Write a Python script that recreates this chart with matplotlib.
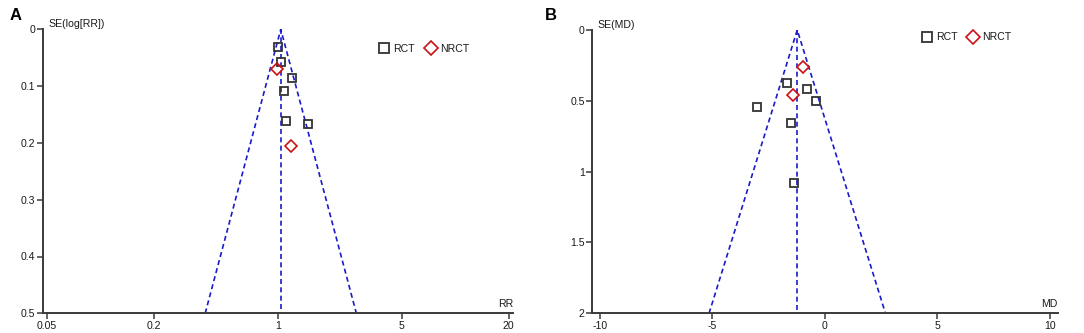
import numpy as np
import matplotlib
matplotlib.use("Agg")
import matplotlib.pyplot as plt
from matplotlib.lines import Line2D

plt.rcParams['font.family'] = ['Liberation Sans', 'DejaVu Sans']

# ---- Panel A data (risk ratio) ----
a_rct_rr = [1.00, 1.04, 1.20, 1.09, 1.11, 1.48]
a_rct_se = [0.032, 0.057, 0.086, 0.109, 0.161, 0.167]
a_nrct_rr = [0.99, 1.18]
a_nrct_se = [0.070, 0.206]
a_pooled = 1.04
a_xticks = [0.05, 0.2, 1, 5, 20]
a_xticklabels = ['0.05', '0.2', '1', '5', '20']
a_yticks = [0, 0.1, 0.2, 0.3, 0.4, 0.5]
a_yticklabels = ['0', '0.1', '0.2', '0.3', '0.4', '0.5']

# ---- Panel B data (mean difference) ----
b_rct_md = [-1.70, -0.79, -0.41, -3.01, -1.50, -1.39]
b_rct_se = [0.372, 0.416, 0.501, 0.546, 0.659, 1.080]
b_nrct_md = [-0.98, -1.41]
b_nrct_se = [0.264, 0.456]
b_pooled = -1.23
b_xticks = [-10, -5, 0, 5, 10]
b_xticklabels = ['-10', '-5', '0', '5', '10']
b_yticks = [0, 0.5, 1, 1.5, 2]
b_yticklabels = ['0', '0.5', '1', '1.5', '2']

W, H = 1084, 333
fig = plt.figure(figsize=(W / 100, H / 100), dpi=100)

def px_axes(x0, x1, ytop, ybot):
    return fig.add_axes([x0 / W, 1 - ybot / H, (x1 - x0) / W, (ybot - ytop) / H])

axA = px_axes(42.7, 513, 29.3, 313.3)
axB = px_axes(592.3, 1058, 30, 313.3)

funnel_col = '#1a1acc'
sq_col = '#333333'
dm_col = '#cc1111'
spine_col = '#3a3a3a'
txt_col = '#1a1a1a'
fs = 7.6

def style(ax):
    for s in ['top', 'right']:
        ax.spines[s].set_visible(False)
    for s in ['left', 'bottom']:
        ax.spines[s].set_color(spine_col)
        ax.spines[s].set_linewidth(1.4)
    ax.tick_params(direction='out', length=4, width=1.1, color=spine_col,
                   labelsize=fs, labelcolor=txt_col, pad=1.5)
    ax.set_facecolor('none')

dash = (0, (3, 2))

# Panel A
style(axA)
axA.set_xscale('log')
se_max_a = 0.5
axA.plot([np.exp(np.log(a_pooled) - 1.96 * se_max_a), a_pooled,
          np.exp(np.log(a_pooled) + 1.96 * se_max_a)],
         [se_max_a, 0, se_max_a], ls=dash, color=funnel_col, lw=1.2)
axA.plot([a_pooled, a_pooled], [0, se_max_a], ls=dash, color=funnel_col, lw=1.2)
axA.plot(a_rct_rr, a_rct_se, ls='none', marker='s', ms=6, mfc='none',
         mec=sq_col, mew=1.3)
axA.plot(a_nrct_rr, a_nrct_se, ls='none', marker='D', ms=5.8, mfc='none',
         mec=dm_col, mew=1.2)
axA.set_xlim(0.04747, 21.12)
axA.set_ylim(0.5, 0)
axA.set_xticks(a_xticks)
axA.set_xticklabels(a_xticklabels)
axA.minorticks_off()
axA.set_yticks(a_yticks)
axA.set_yticklabels(a_yticklabels)

# Panel B
style(axB)
se_max_b = 2.0
axB.plot([b_pooled - 1.96 * se_max_b, b_pooled, b_pooled + 1.96 * se_max_b],
         [se_max_b, 0, se_max_b], ls=dash, color=funnel_col, lw=1.2)
axB.plot([b_pooled, b_pooled], [0, se_max_b], ls=dash, color=funnel_col, lw=1.2)
axB.plot(b_rct_md, b_rct_se, ls='none', marker='s', ms=6, mfc='none',
         mec=sq_col, mew=1.3)
axB.plot(b_nrct_md, b_nrct_se, ls='none', marker='D', ms=5.8, mfc='none',
         mec=dm_col, mew=1.2)
axB.set_xlim(-10.34, 10.36)
axB.set_ylim(2, 0)
axB.set_xticks(b_xticks)
axB.set_xticklabels(b_xticklabels)
axB.set_yticks(b_yticks)
axB.set_yticklabels(b_yticklabels)

# Labels
for ax, ylab, xlab in [(axA, 'SE(log[RR])', 'RR'), (axB, 'SE(MD)', 'MD')]:
    ax.text(0.012, 1.0, ylab, transform=ax.transAxes, ha='left', va='bottom',
            fontsize=fs, color=txt_col)
    ax.text(1.0, 0.015, xlab, transform=ax.transAxes, ha='right', va='bottom',
            fontsize=fs, color=txt_col)

fig.text(10 / W, 1 - 15 / H, 'A', fontsize=12, fontweight='bold', va='center', ha='left')
fig.text(545 / W, 1 - 15 / H, 'B', fontsize=12, fontweight='bold', va='center', ha='left')

# Legends
handles = [Line2D([], [], ls='none', marker='s', ms=7.5, mfc='none', mec=sq_col, mew=1.3),
           Line2D([], [], ls='none', marker='D', ms=7.5, mfc='none', mec=dm_col, mew=1.2)]
for ax, (lx, ly) in [(axA, (379 / W, 1 - 48.5 / H)), (axB, (921.5 / W, 1 - 37.5 / H))]:
    leg = ax.legend(handles, ['RCT', 'NRCT'], loc='center left', bbox_to_anchor=(lx, ly),
                    bbox_transform=fig.transFigure, ncol=2, frameon=False, fontsize=fs,
                    handlelength=1.0, handletextpad=0.35, columnspacing=1.0,
                    borderpad=0, borderaxespad=0)
    for t in leg.get_texts():
        t.set_color(txt_col)

fig.savefig('out.png', dpi=100)
